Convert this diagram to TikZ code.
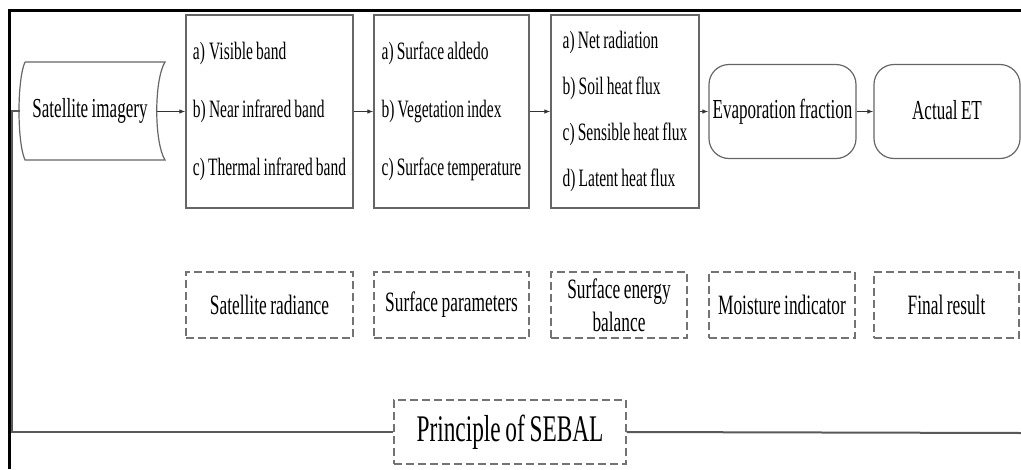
\documentclass[tikz,border=0pt]{standalone}
\usepackage{fontspec}
\setmainfont[FakeStretch=0.62, WordSpace=0.8]{Liberation Serif}
\usetikzlibrary{arrows.meta}
\tikzset{
  listbox/.style={draw=black!60, line width=1.2pt, minimum height=193pt, align=left, inner xsep=4pt, font=\fontsize{25}{58}\selectfont},
  roundbox/.style={draw=black!60, line width=1.2pt, rounded corners=20pt, minimum width=147pt, minimum height=94pt, font=\fontsize{27.5}{33}\selectfont},
  dashbox/.style={draw=black!55, dash pattern=on 8pt off 4pt, line width=1.3pt, minimum height=66pt, align=center, font=\fontsize{28}{33}\selectfont},
  flow/.style={draw=black!80, line width=1pt, -{Latex[length=6pt,width=4.5pt]}},
  outerline/.style={line width=3pt, black},
  link/.style={draw=black!65, line width=2pt},
}
\begin{document}
\begin{tikzpicture}[x=1pt, y=-1pt]
			%%%%% START %%%%%
			\useasboundingbox (0,0) rectangle (1021,469);
			
			\draw[outerline] (9.5,469) -- (9.5,10.5) -- (1021,10.5);
			
			% satellite imagery (stored data shape)
			\draw[draw=black!60, line width=1.2pt] (25,62) -- (165,62) .. controls (154,80) and (154,142) .. (165,160) -- (25,160) .. controls (17,142) and (17,80) .. (25,62);
			\node[font=\fontsize{27.5}{33}\selectfont] (sat) at (90,111) {Satellite imagery};
			\coordinate (satr) at (157,111.5);
			\coordinate (satl) at (20,111);
			
			\node[listbox, minimum width=167pt] (bands) at (269.5,111.5) {a)\,Visible band\\b) Near infrared band\\c) Thermal infrared band};
			\node[listbox, minimum width=155pt] (params) at (451.5,111.5) {a) Surface aldedo\\b) Vegetation index\\c) Surface temperature};
			\node[listbox, minimum width=148pt, font=\fontsize{25}{45.7}\selectfont] (energy) at (625,111.5) {a) Net radiation\\b) Soil heat flux\\c) Sensible heat flux\\d) Latent heat flux};
			
			\node[roundbox] (evap) at (782.5,111.5) {Evaporation fraction};
			\node[roundbox, minimum width=146pt] (aet) at (947,111.5) {\raisebox{3pt}{Actual ET}};
			
			\draw[flow] (satr) -- (bands.west);
			\draw[flow] (bands.east) -- (params.west);
			\draw[flow] (params.east) -- (energy.west);
			\draw[flow] (energy.east) -- (evap.west);
			\draw[flow] (evap.east) -- (aet.west);
			
			% stage labels
			\node[dashbox, minimum width=167pt] (radiance) at (269.5,305) {Satellite radiance};
			\node[dashbox, minimum width=155pt] (surfpar) at (451.5,305) {Surface parameters};
			\node[dashbox, minimum width=136pt] (balance) at (619,305) {Surface energy\\balance};
			\node[dashbox, minimum width=146pt] (moist) at (782,305) {Moisture indicator};
			\node[dashbox, minimum width=145pt] (final) at (946.5,305) {Final result};
			
			\node[dashbox, minimum width=232pt, minimum height=64pt, font=\fontsize{37.6}{40}\selectfont] (sebal) at (510,432) {Principle of SEBAL};
			
			\coordinate (bend) at (11.5,111);
			\coordinate (rightend) at (1021,433);
			\draw[link] (satl) -- (bend) |- (sebal.west);
			\draw[link] (sebal.east) -- (rightend);
			
			%%%%% END %%%%%
\end{tikzpicture}
\end{document}
